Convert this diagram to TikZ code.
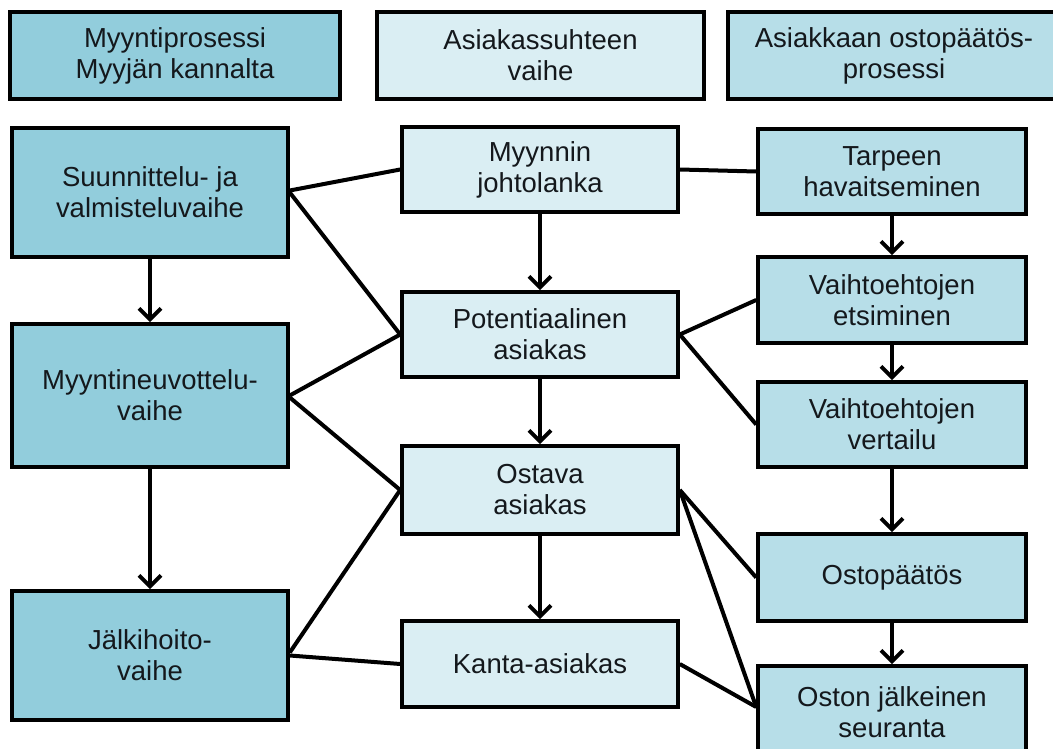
\documentclass[tikz,border=0pt]{standalone}
\usepackage{fontspec}
\setmainfont{Liberation Sans}
\usetikzlibrary{arrows.meta}
\definecolor{colL}{RGB}{146,205,220}
\definecolor{colM}{RGB}{218,238,243}
\definecolor{colR}{RGB}{183,222,232}
\definecolor{txt}{RGB}{20,24,28}
\tikzset{
  box/.style={draw=black, line width=3.6pt, align=center, inner sep=0pt,
    text=txt, font=\fontsize{27.5}{31}\selectfont},
  lbox/.style={box, fill=colL, minimum width=276pt},
  mbox/.style={box, fill=colM, minimum width=276pt},
  rbox/.style={box, fill=colR, minimum width=268pt},
  link/.style={line width=4pt},
  flow/.style={link, -{Straight Barb[length=11pt,width=22pt]}}
}
\begin{document}
\begin{tikzpicture}[x=1pt,y=-1pt]
\clip (0,0) rectangle (1053,749);
\fill[white] (0,0) rectangle (1053,749);

% column headings
\node[box, fill=colL, minimum width=330pt, minimum height=87pt] (h1) at (175,55.5)
  {Myyntiprosessi\\Myyjän kannalta};
\node[box, fill=colM, minimum width=327pt, minimum height=87pt] (h2) at (540.5,55.5)
  {Asiakassuhteen\\vaihe};
\node[box, fill=colR, minimum width=332pt, minimum height=87pt] (h3) at (894,55.5)
  {Asiakkaan ostopäätös-\\prosessi};

% seller's process
\node[lbox, minimum height=129pt] (s1) at (150,192.5) {Suunnittelu- ja\\valmisteluvaihe};
\node[lbox, minimum height=143pt] (s2) at (150,395.5) {Myyntineuvottelu-\\vaihe};
\node[lbox, minimum height=129pt] (s3) at (150,655.5) {Jälkihoito-\\vaihe};

% customer relationship stages
\node[mbox, minimum height=85pt] (m1) at (540,169.5) {Myynnin\\johtolanka};
\node[mbox, minimum height=85pt] (m2) at (540,334.5) {Potentiaalinen\\asiakas};
\node[mbox, minimum height=88pt] (m3) at (540,490) {Ostava\\asiakas};
\node[mbox, minimum height=86pt] (m4) at (540,664) {Kanta-asiakas};

% customer's purchase decision process
\node[rbox, minimum height=85pt] (r1) at (892,171.5) {Tarpeen\\havaitseminen};
\node[rbox, minimum height=86pt] (r2) at (892,300) {Vaihtoehtojen\\etsiminen};
\node[rbox, minimum height=85pt] (r3) at (892,424.5) {Vaihtoehtojen\\vertailu};
\node[rbox, minimum height=87pt] (r4) at (892,577.5) {Ostopäätös};
\node[rbox, minimum height=92pt] (r5) at (892,712) {Oston jälkeinen\\seuranta};

% flow within each column
\draw[flow] (s1.south) -- (s2.north);
\draw[flow] (s2.south) -- (s3.north);
\draw[flow] (m1.south) -- (m2.north);
\draw[flow] (m2.south) -- (m3.north);
\draw[flow] (m3.south) -- (m4.north);
\draw[flow] (r1.south) -- (r2.north);
\draw[flow] (r2.south) -- (r3.north);
\draw[flow] (r3.south) -- (r4.north);
\draw[flow] (r4.south) -- (r5.north);

% links between the columns
\draw[link] ([yshift=2pt]s1.east) -- (m1.west);
\draw[link] (s1.east) -- (m2.west);
\draw[link] (s2.east) -- (m2.west);
\draw[link] ([yshift=-2pt]s2.east) -- (m3.west);
\draw[link] ([yshift=3pt]s3.east) -- (m3.west);
\draw[link] (s3.east) -- (m4.west);
\draw[link] (m1.east) -- (r1.west);
\draw[link] (m2.east) -- (r2.west);
\draw[link] (m2.east) -- (r3.west);
\draw[link] (m3.east) -- (r4.west);
\draw[link] (m3.east) -- ([yshift=5pt]r5.west);
\draw[link] (m4.east) -- ([yshift=5pt]r5.west);
\end{tikzpicture}
\end{document}
